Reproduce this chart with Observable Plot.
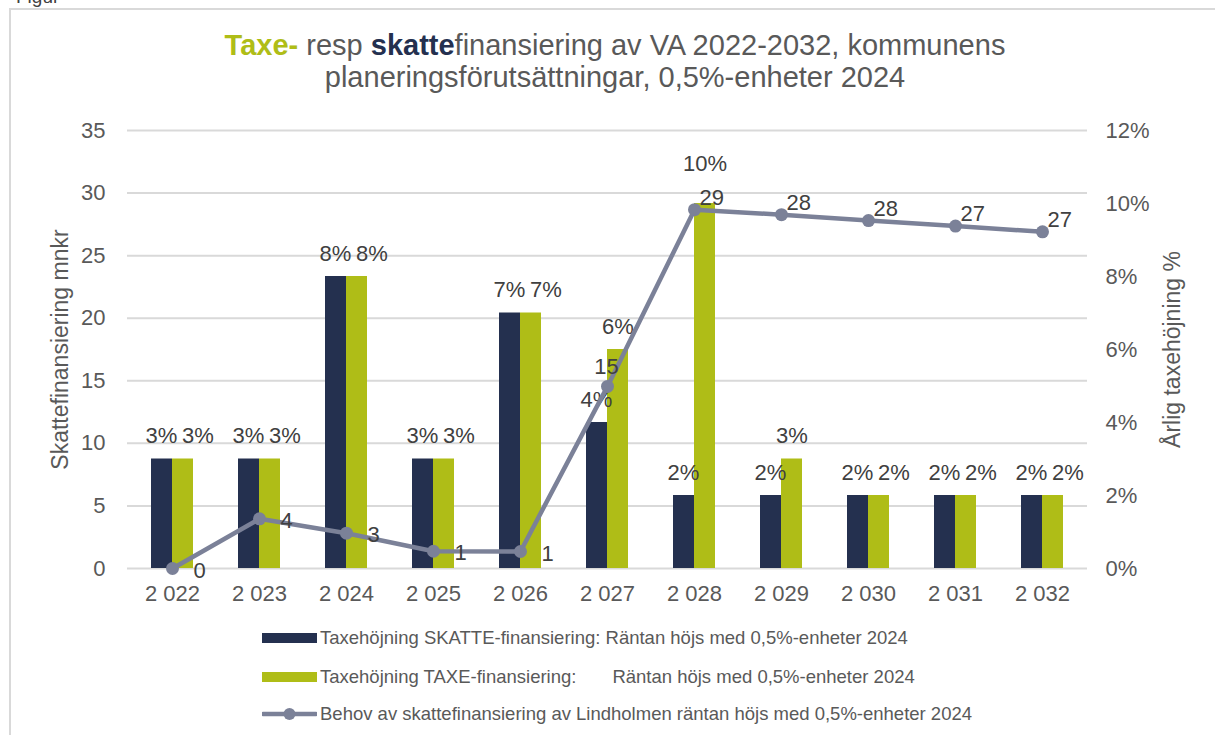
<!DOCTYPE html>
<html><head><meta charset="utf-8">
<script src="https://cdn.jsdelivr.net/npm/d3@7"></script>
<script src="https://cdn.jsdelivr.net/npm/@observablehq/plot@0.6"></script>
<style>
body{margin:0;background:#fff;font-family:"Liberation Sans",Arial,sans-serif;}
#wrap{position:relative;width:1215px;height:735px;overflow:hidden;background:#fff;}
#frame{position:absolute;left:9px;top:8px;width:1300px;height:800px;border:2px solid #d9d9d9;box-sizing:border-box;}
#fig{position:absolute;left:16px;top:-14px;font-size:19px;color:#404040;}
#title{position:absolute;left:10px;width:1210px;top:29px;text-align:center;font-size:29px;line-height:32px;color:#595959;}
#title .g{color:#afbd17;font-weight:bold;}
#title .n{color:#24304f;font-weight:bold;}
#chart{position:absolute;left:0;top:0;}
.lg{position:absolute;left:262px;height:20px;display:flex;align-items:center;font-size:18.5px;color:#595959;white-space:pre;}
.sw{width:55px;height:10px;margin-right:3px;}
.ln{position:relative;width:55px;height:20px;margin-right:3px;}
</style></head>
<body>
<div id="wrap">
<div id="frame"></div>
<div id="fig">Figur</div>
<div id="title"><span class="g">Taxe-</span> resp <span class="n">skatte</span>finansiering av VA 2022-2032, kommunens<br>planeringsförutsättningar, 0,5%-enheter 2024</div>
<div id="chart"></div>
<div id="legend"></div>
</div>
<script>
// ---- data ----
const years = [2022, 2023, 2024, 2025, 2026, 2027, 2028, 2029, 2030, 2031, 2032];
const skattePct = [3, 3, 8, 3, 7, 4, 2, 2, 2, 2, 2];          // Taxehöjning SKATTE-finansiering (%)
const taxePct   = [3, 3, 8, 3, 7, 6, 10, 3, 2, 2, 2];         // Taxehöjning TAXE-finansiering (%)
const behovMnkr = [0, 3.97, 2.82, 1.38, 1.36, 14.55, 28.67, 28.27, 27.8, 27.36, 26.9]; // Behov av skattefinansiering (mnkr)
const leftTicks = [0, 5, 10, 15, 20, 25, 30, 35];
const rightTicks = [0, 2, 4, 6, 8, 10, 12];
const legendLabels = [
  "Taxehöjning SKATTE-finansiering: Räntan höjs med 0,5%-enheter 2024",
  "Taxehöjning TAXE-finansiering:       Räntan höjs med 0,5%-enheter 2024",
  "Behov av skattefinansiering av Lindholmen räntan höjs med 0,5%-enheter 2024"
];
const yLeftLabel = "Skattefinansiering mnkr";
const yRightLabel = "Årlig taxehöjning %";

// ---- styling ----
const navy = "#24304f", green = "#afbd17", lineC = "#7b8198", txt = "#595959", lab = "#404040";
const K = 35 / 12; // percent -> left axis units (right axis 0-12% spans left axis 0-35)

const rows = years.map((year, i) => ({year, skatte: skattePct[i], taxe: taxePct[i], behov: behovMnkr[i]}));
const locale = d3.formatLocale({decimal: ",", thousands: " ", grouping: [3], currency: ["", ""]});
const yearFmt = locale.format(",");

const labelFont = {fontSize: 22, fill: lab, fontFamily: "Liberation Sans, Arial, sans-serif"};

const chart = Plot.plot({
  width: 1215, height: 610,
  marginTop: 130, marginBottom: 42, marginLeft: 127, marginRight: 128,
  style: {fontFamily: "Liberation Sans, Arial, sans-serif", background: "transparent", overflow: "visible"},
  x: {type: "band", domain: years, paddingInner: 0.52, paddingOuter: 0.26},
  y: {domain: [0, 35]},
  marks: [
    Plot.gridY(leftTicks, {stroke: "#d9d9d9", strokeOpacity: 1, strokeWidth: 2}),
    Plot.axisY(leftTicks, {anchor: "left", tickSize: 0, tickPadding: 22, fontSize: 22, fill: txt, label: null}),
    Plot.axisY(rightTicks.map(p => p * K), {anchor: "right", tickSize: 0, tickPadding: 18, fontSize: 22, fill: txt, label: null,
      tickFormat: v => Math.round(v / K) + "%"}),
    Plot.axisX(years, {anchor: "bottom", tickSize: 0, tickPadding: 17, fontSize: 22, fill: txt, label: null, tickFormat: yearFmt}),
    Plot.barY(rows, {x: "year", y: d => d.skatte * K, fill: navy, insetRight: 21}),
    Plot.barY(rows, {x: "year", y: d => d.taxe * K, fill: green, insetLeft: 21}),
    // bar value labels
    Plot.text(rows, {x: "year", y: d => d.skatte * K, text: d => d.skatte + "%", dx: -11, dy: -23, ...labelFont}),
    Plot.text(rows.filter(d => d.taxe === d.skatte), {x: "year", y: d => d.taxe * K, text: d => d.taxe + "%", dx: 25.5, dy: -23, ...labelFont}),
    Plot.text(rows.filter(d => d.taxe !== d.skatte && d.taxe < 9), {x: "year", y: d => d.taxe * K, text: d => d.taxe + "%", dx: 10.5, dy: -23, ...labelFont}),
    Plot.text(rows.filter(d => d.taxe >= 9), {x: "year", y: d => d.taxe * K, text: d => d.taxe + "%", dx: 10.5, dy: -40, ...labelFont}),
    // line
    Plot.line(rows, {x: "year", y: "behov", stroke: lineC, strokeWidth: 4.5}),
    Plot.dot(rows, {x: "year", y: "behov", r: 6.5, fill: lineC, stroke: "none"}),
    Plot.text(rows.filter(d => d.behov < 10), {x: "year", y: "behov", text: d => Math.round(d.behov), textAnchor: "start", dx: 21, dy: 2, ...labelFont}),
    Plot.text(rows.filter(d => d.behov >= 10 && d.behov < 20), {x: "year", y: "behov", text: d => Math.round(d.behov), dx: -1, dy: -19, ...labelFont}),
    Plot.text(rows.filter(d => d.behov >= 20), {x: "year", y: "behov", text: d => Math.round(d.behov), textAnchor: "start", dx: 5, dy: -12, ...labelFont}),
    // axis titles
    Plot.text([yLeftLabel], {frameAnchor: "left", textAnchor: "middle", text: d => d, rotate: -90, dx: -67, fontSize: 23, fill: txt}),
    Plot.text([yRightLabel], {frameAnchor: "right", textAnchor: "middle", text: d => d, rotate: -90, dx: 85, fontSize: 23, fill: txt})
  ]
});
document.getElementById("chart").appendChild(chart);

// ---- legend ----
const lg = document.getElementById("legend");
const tops = [628, 667, 704];
legendLabels.forEach((t, i) => {
  const row = document.createElement("div");
  row.className = "lg";
  row.style.top = tops[i] + "px";
  let sw;
  if (i < 2) {
    sw = document.createElement("div");
    sw.className = "sw";
    sw.style.background = i === 0 ? navy : green;
  } else {
    sw = document.createElement("div");
    sw.className = "ln";
    sw.innerHTML = `<svg width="55" height="20"><line x1="1" x2="54" y1="10" y2="10" stroke="${lineC}" stroke-width="4.5" stroke-linecap="round"/><circle cx="27.5" cy="10" r="6" fill="${lineC}"/></svg>`;
  }
  row.appendChild(sw);
  const s = document.createElement("span");
  s.textContent = t;
  row.appendChild(s);
  lg.appendChild(row);
});
</script>
</body></html>
